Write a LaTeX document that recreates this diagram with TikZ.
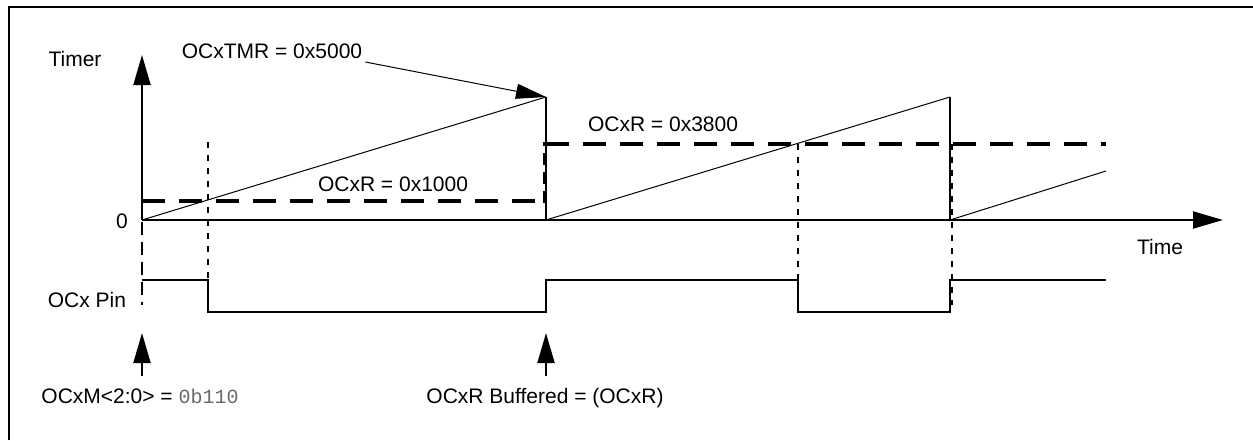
\documentclass[tikz,border=0pt]{standalone}
\usepackage{fontspec}
\setmainfont{Liberation Sans}
\setmonofont{Liberation Mono}
\usetikzlibrary{arrows.meta}
\usetikzlibrary{calc}

\definecolor{codegray}{RGB}{105,105,105}

\tikzset{
  axis/.style={line width=2pt,-{Triangle[length=30pt,width=17pt]}},
  marker/.style={line width=2pt,-{Triangle[length=30pt,width=17pt]}},
  ramp/.style={line width=1pt},
  cmpline/.style={line width=4.5pt,dash pattern=on 23pt off 14pt},
  cmpstep/.style={line width=4.5pt,dash pattern=on 12pt off 7pt},
  sync/.style={line width=1.8pt,dash pattern=on 6pt off 7pt},
  startline/.style={line width=1.8pt,dash pattern=on 13pt off 7pt},
  pin/.style={line width=2pt},
  lbl/.style={font=\fontsize{21}{25}\selectfont,inner sep=2pt,text height=15pt,text depth=0pt},
}

\begin{document}
\begin{tikzpicture}[x=1pt,y=-1pt]
\useasboundingbox (0,0) rectangle (1253,440);
\draw[line width=2.5pt] (9,440) -- (9,7) -- (1253,7);
% axes
\coordinate (O) at (142,220);
\coordinate (ytop) at (142,55);
\coordinate (xend) at (1223,220);
\draw[axis] (O) -- (ytop);
\draw[axis] (O) -- (xend);
% timer ramps
\coordinate (pk1) at (546,97);
\coordinate (pk2) at (950,97);
\draw[ramp] (O) -- (pk1);
\draw[pin] (pk1) -- (546,220);
\draw[ramp] (546,220) -- (pk2);
\draw[pin] (pk2) -- (950,220);
\draw[ramp] (950,220) -- (1106,171);
% compare values
\draw[cmpline] (142,201) -- (545,201);
\draw[cmpstep] (545,203) -- (545,142);
\draw[cmpline] (546,144) -- (1106,144);
% match events
\draw[startline] (142,222) -- (142,305);
\draw[sync] (208,142) -- (208,280);
\draw[sync] (798,144) -- (798,280);
\draw[sync] (952,144) -- (952,305);
% output pin
\draw[pin] (142,280) -- (208,280) -- (208,312) -- (546,312) -- (546,280)
  -- (798,280) -- (798,312) -- (950,312) -- (950,280) -- (1106,280);
% labels
\node[lbl] (timerlbl) at (75,59) {Timer};
\node[lbl] (tmr) at (272,51) {OCxTMR = 0x5000};
\node[lbl] (cmp1) at (393,184) {OCxR = 0x1000};
\node[lbl] (cmp2) at (663,124) {OCxR = 0x3800};
\node[lbl] (zero) at (122,221) {0};
\node[lbl] (timelbl) at (1160,247) {Time};
\node[lbl] (pinlbl) at (87,300) {OCx Pin};
\node[lbl] (mode) at (140,396) {OCxM<2:0> = {\ttfamily\fontsize{20}{24}\selectfont\color{codegray}0b110}};
\node[lbl] (buf) at (545,396) {OCxR Buffered = (OCxR)};
\draw[ramp,-{Triangle[length=30pt,width=15pt]}] ($(tmr.east)+(1,11)$) -- (pk1);
\draw[marker] (142,376) -- (142,333);
\draw[marker] (546,376) -- (546,333);
\end{tikzpicture}
\end{document}
